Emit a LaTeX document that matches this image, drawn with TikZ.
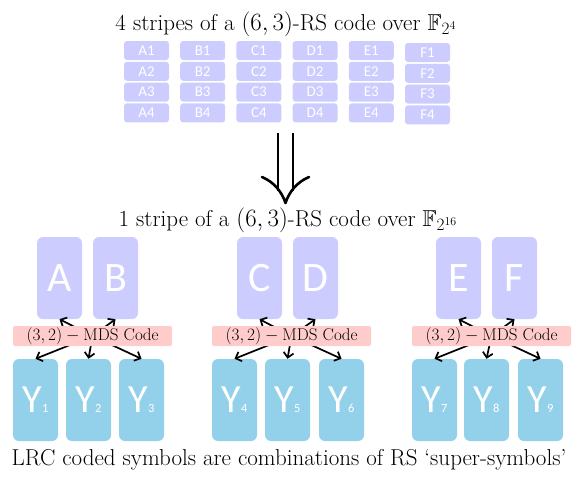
\documentclass[tikz,border=0pt]{standalone}
\usepackage{fontspec}
\usepackage{amssymb}
\newfontfamily\boxfont{Carlito}
\usetikzlibrary{arrows.meta}
\definecolor{lav}{HTML}{CCCCFF}
\definecolor{rose}{HTML}{FFCCCC}
\definecolor{sky}{HTML}{93D1EA}
\tikzset{
  title/.style={font=\fontsize{23}{26}\selectfont, inner sep=0pt},
  sbox/.style={fill=lav, draw=none, rounded corners=3pt, minimum width=45pt, minimum height=19pt, inner sep=0pt, text=white, font=\boxfont\fontsize{15}{17}\selectfont},
  bbox/.style={fill=lav, draw=none, rounded corners=6pt, minimum width=45pt, minimum height=82pt, inner sep=0pt, text=white, font=\boxfont\fontsize{42}{46}\selectfont},
  ybox/.style={fill=sky, draw=none, rounded corners=6pt, minimum width=45pt, minimum height=82pt, inner sep=0pt, text=white, font=\boxfont\fontsize{40}{44}\selectfont},
  mds/.style={fill=rose, draw=none, rounded corners=2pt, minimum width=159pt, minimum height=20pt, inner sep=0pt, font=\fontsize{17}{19}\selectfont},
  conn/.style={line width=1.7pt, -{Straight Barb[length=5pt,width=10pt,line width=1.7pt]}},
  bigarrow/.style={line width=2.6pt}
}
\newcommand{\ysym}[1]{\raisebox{-4pt}{Y{\fontsize{12.5}{14}\selectfont #1}}}
\newcommand{\bsym}[1]{\raisebox{-4pt}{#1}}
\begin{document}
\begin{tikzpicture}[x=1pt,y=-1pt]
\useasboundingbox (0,0) rectangle (581,480);
% titles
\node[title] (t1) at (286,24) {4 stripes of a $(6,3)$-RS code over $\mathbb{F}_{2^4}$};
\node[title] (t2) at (288,220) {1 stripe of a $(6,3)$-RS code over $\mathbb{F}_{2^{16}}$};
\node[title] (t3) at (289,460) {LRC coded symbols are combinations of RS `super-symbols'};
% small boxes
\foreach \c [count=\i from 0] in {A,B,C,D,E,F} {
  \pgfmathsetmacro\dy{\i==5 ? 2 : 0}
  \foreach \r in {1,...,4} {
    \node[sbox] (s\c\r) at ({146.5+56.2*\i}, {50.5+20.8*(\r-1)+\dy}) {\c\r};
  }
}
% double arrow
\coordinate (dl) at (278,133);
\coordinate (dr) at (293,133);
\coordinate (dtip) at (285.5,203);
\draw[bigarrow] (dl) -- ++(0,58);
\draw[bigarrow] (dr) -- ++(0,58);
\draw[bigarrow, line cap=round, line join=round] (262,177) .. controls (274,182) and (282,192) .. (dtip) .. controls (289,192) and (297,182) .. (309,177);
% big boxes
\node[bbox] (A) at (59.5,278) {\bsym{A}};
\node[bbox] (B) at (115.5,278) {\bsym{B}};
\node[bbox] (C) at (259.5,278) {\bsym{C}};
\node[bbox] (D) at (315.5,278) {\bsym{D}};
\node[bbox] (E) at (458.5,278) {\bsym{E}};
\node[bbox] (F) at (514.5,278) {\bsym{F}};
% Y boxes
\node[ybox] (Y1) at (35.5,400) {\ysym{1}};
\node[ybox] (Y2) at (88.5,400) {\ysym{2}};
\node[ybox] (Y3) at (141.5,400) {\ysym{3}};
\node[ybox] (Y4) at (234.5,400) {\ysym{4}};
\node[ybox] (Y5) at (287.5,400) {\ysym{5}};
\node[ybox] (Y6) at (341.5,400) {\ysym{6}};
\node[ybox] (Y7) at (434.5,400) {\ysym{7}};
\node[ybox] (Y8) at (486.5,400) {\ysym{8}};
\node[ybox] (Y9) at (540.5,400) {\ysym{9}};
% MDS centers
\coordinate (c1) at (92.5,336);
\coordinate (c2) at (291.5,336);
\coordinate (c3) at (491.5,336);
% connectors
\foreach \m/\p/\q/\u/\v/\w in {c1/A/B/Y1/Y2/Y3, c2/C/D/Y4/Y5/Y6, c3/E/F/Y7/Y8/Y9} {
  \draw[conn] (\m) -- (\p.south);
  \draw[conn] (\m) -- (\q.south);
  \draw[conn] (\m) -- (\u.north);
  \draw[conn] (\m) -- (\v.north);
  \draw[conn] (\m) -- (\w.north);
}
% MDS boxes
\node[mds] (m1) at (c1) {$(3,2)-\mathrm{MDS\ Code}$};
\node[mds] (m2) at (c2) {$(3,2)-\mathrm{MDS\ Code}$};
\node[mds] (m3) at (c3) {$(3,2)-\mathrm{MDS\ Code}$};
\end{tikzpicture}
\end{document}
